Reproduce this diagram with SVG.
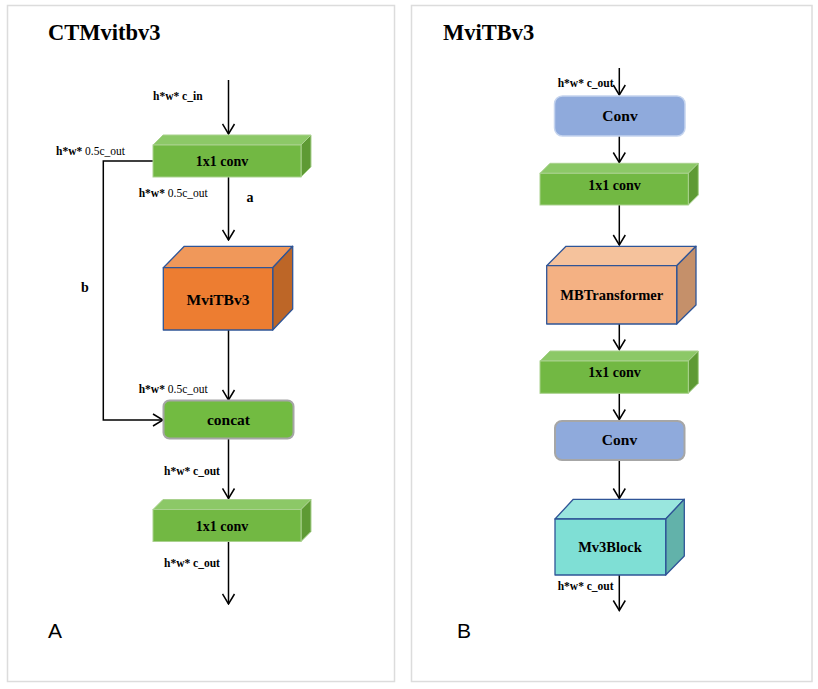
<svg xmlns="http://www.w3.org/2000/svg" width="818" height="689" viewBox="0 0 818 689">
<style>
.panel{fill:#fff;stroke:#dcdcdc;stroke-width:1.5}
.title{font-family:"Liberation Serif",serif;font-weight:bold;font-size:22.5px;fill:#000}
.lbl{font-family:"Liberation Serif",serif;font-weight:bold;font-size:11.5px;fill:#000}
.reg{font-weight:normal}
.nt{font-family:"Liberation Serif",serif;font-weight:bold;fill:#000;text-anchor:middle}
.big{font-family:"Liberation Sans",Arial,sans-serif;font-size:21px;fill:#000}
.conn{stroke:#000;stroke-width:1.5;fill:none;marker-end:url(#arr)}
.gf{fill:#72B843;stroke:#A9D18E;stroke-width:1}
.gt{fill:#8CC867;stroke:#A9D18E;stroke-width:1}
.gs{fill:#5E9A34;stroke:#A9D18E;stroke-width:1}
.bx{stroke:#2F5597;stroke-width:1.3;stroke-linejoin:round}
</style>
<defs>
<marker id="arr" markerUnits="userSpaceOnUse" viewBox="0 0 12 14" refX="11" refY="7" markerWidth="12" markerHeight="14" orient="auto">
<path d="M1,1 L11,7 L1,13" fill="none" stroke="#000" stroke-width="1.5"/>
</marker>
</defs>

<rect class="panel" x="7.5" y="5.5" width="387" height="676"/>
<rect class="panel" x="411.5" y="5.5" width="400.5" height="676"/>

<text class="title" x="48" y="40">CTMvitbv3</text>
<text class="title" x="443" y="40">MviTBv3</text>
<text class="big" x="48" y="638">A</text>
<text class="big" x="457" y="638">B</text>

<g id="connectors">
<line class="conn" x1="228.5" y1="80" x2="228.5" y2="134"/>
<line class="conn" x1="228.5" y1="177" x2="228.5" y2="240"/>
<polyline class="conn" points="153,161 103.3,161 103.3,420 163,420"/>
<line class="conn" x1="228.5" y1="330" x2="228.5" y2="400"/>
<line class="conn" x1="228.5" y1="438" x2="228.5" y2="498.5"/>
<line class="conn" x1="228.5" y1="542" x2="228.5" y2="604"/>

<line class="conn" x1="619.3" y1="68" x2="619.3" y2="95"/>
<line class="conn" x1="619.3" y1="136" x2="619.3" y2="162.5"/>
<line class="conn" x1="619.3" y1="205" x2="619.3" y2="245"/>
<line class="conn" x1="619.3" y1="324" x2="619.3" y2="349.5"/>
<line class="conn" x1="619.3" y1="393.5" x2="619.3" y2="419.5"/>
<line class="conn" x1="619.3" y1="460" x2="619.3" y2="498.5"/>
<line class="conn" x1="619.3" y1="575" x2="619.3" y2="610.5"/>
</g>

<g id="labels">
<text class="lbl" x="153" y="100">h*w* c_in</text>
<text class="lbl" x="56" y="154.5">h*w*<tspan class="reg"> 0.5c_out</tspan></text>
<text class="lbl" x="138.7" y="196.7">h*w*<tspan class="reg"> 0.5c_out</tspan></text>
<text class="nt" x="250" y="201.7" font-size="14">a</text>
<text class="nt" x="85" y="291.7" font-size="14">b</text>
<text class="lbl" x="138.7" y="392.7">h*w*<tspan class="reg"> 0.5c_out</tspan></text>
<text class="lbl" x="164" y="475">h*w* c_out</text>
<text class="lbl" x="164" y="566.7">h*w* c_out</text>
<text class="lbl" x="557.7" y="87.3">h*w* c_out</text>
<text class="lbl" x="557.7" y="590">h*w* c_out</text>
</g>

<g id="conv1x1_a1">
<polygon class="gt" points="153,145 163,135 311,135 301,145"/>
<polygon class="gs" points="301,145 311,135 311,167 301,177"/>
<rect class="gf" x="153" y="145" width="148" height="32"/>
<text class="nt" x="222" y="165.5" font-size="14">1x1 conv</text>
</g>

<g id="mvitbv3_a">
<polygon class="bx" fill="#F0985A" points="163.3,267.7 184.3,246.3 292.7,246.3 272.7,267.7"/>
<polygon class="bx" fill="#BD6627" points="272.7,267.7 292.7,246.3 292.7,309 272.7,330"/>
<rect class="bx" fill="#ED7D31" x="163.3" y="267.7" width="109.4" height="62.3"/>
<text class="nt" x="218" y="305" font-size="15.5">MviTBv3</text>
</g>

<g id="concat_a">
<rect x="163.5" y="400.5" width="130" height="38" rx="6" fill="#72BB41" stroke="#A6A6A6" stroke-width="2"/>
<text class="nt" x="228.5" y="425" font-size="15.5">concat</text>
</g>

<g id="conv1x1_a2">
<polygon class="gt" points="153,509.5 163,499.5 311,499.5 301,509.5"/>
<polygon class="gs" points="301,509.5 311,499.5 311,531.5 301,541.5"/>
<rect class="gf" x="153" y="509.5" width="148" height="32"/>
<text class="nt" x="222" y="530.5" font-size="14">1x1 conv</text>
</g>

<g id="conv_b1">
<rect x="554.5" y="96" width="130.5" height="40" rx="8" fill="#8FAADC" stroke="#C5D4EE" stroke-width="1.5"/>
<text class="nt" x="620" y="120.7" font-size="15.5">Conv</text>
</g>

<g id="conv1x1_b1">
<polygon class="gt" points="540,173.3 550,163.3 698.3,163.3 688.3,173.3"/>
<polygon class="gs" points="688.3,173.3 698.3,163.3 698.3,195 688.3,205"/>
<rect class="gf" x="540" y="173.3" width="148.3" height="31.7"/>
<text class="nt" x="614.5" y="190" font-size="14">1x1 conv</text>
</g>

<g id="mbtransformer_b">
<polygon class="bx" fill="#F5C29C" points="546.7,265.7 566,246.3 696,246.3 676.7,265.7"/>
<polygon class="bx" fill="#C5906A" points="676.7,265.7 696,246.3 696,305 676.7,324"/>
<rect class="bx" fill="#F4B183" x="546.7" y="265.7" width="130" height="58.3"/>
<text class="nt" x="611.7" y="300" font-size="14.5">MBTransformer</text>
</g>

<g id="conv1x1_b2">
<polygon class="gt" points="540,361 550,351 698.3,351 688.3,361"/>
<polygon class="gs" points="688.3,361 698.3,351 698.3,383.3 688.3,393.3"/>
<rect class="gf" x="540" y="361" width="148.3" height="32.3"/>
<text class="nt" x="614.5" y="376.7" font-size="14">1x1 conv</text>
</g>

<g id="conv_b2">
<rect x="555" y="421" width="129.5" height="39" rx="7" fill="#8FAADC" stroke="#A6A6A6" stroke-width="2"/>
<text class="nt" x="619.5" y="445" font-size="15.5">Conv</text>
</g>

<g id="mv3block_b">
<polygon class="bx" fill="#99E6DE" points="555,519 573.3,499.3 684.3,499.3 665.7,519"/>
<polygon class="bx" fill="#62B2AA" points="665.7,519 684.3,499.3 684.3,556 665.7,575"/>
<rect class="bx" fill="#7FDFD5" x="555" y="519" width="110.7" height="56"/>
<text class="nt" x="610" y="551.7" font-size="14.5">Mv3Block</text>
</g>
</svg>
